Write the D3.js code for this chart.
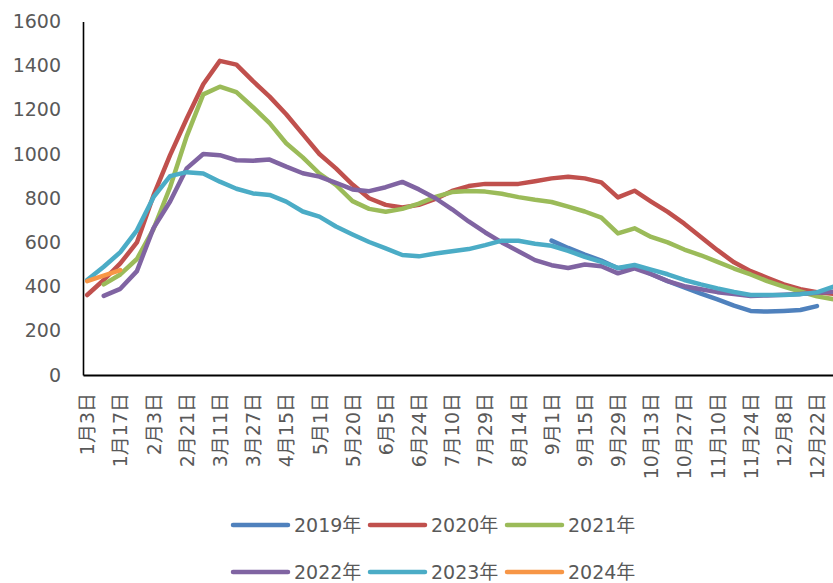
<!DOCTYPE html>
<html lang="zh">
<head>
    <meta charset="UTF-8">
    <title>2019-2024年 走势</title>
    <script src="https://d3js.org/d3.v7.min.js"></script>
    <style>
        body { margin: 0; background: #fff; }
        svg { display: block; font-family: "DejaVu Sans", "Noto Sans CJK SC", sans-serif; }
    </style>
</head>
<body>
    <svg width="833" height="583"></svg>
    <script>
        // x轴标签（每两个数据点一个）
        const tickLabels = ["1月3日", "1月17日", "2月3日", "2月21日", "3月11日", "3月27日", "4月15日",
            "5月1日", "5月20日", "6月5日", "6月24日", "7月10日", "7月29日", "8月14日", "9月1日",
            "9月15日", "9月29日", "10月13日", "10月27日", "11月10日", "11月24日", "12月8日", "12月22日"];

        const yTicks = [0, 200, 400, 600, 800, 1000, 1200, 1400, 1600];

        const seriesNames = ["2019年", "2020年", "2021年", "2022年", "2023年", "2024年"];
        const seriesColors = ["#4F81BD", "#C0504D", "#9BBB59", "#8064A2", "#4BACC6", "#F79646"];
        // 每个系列从第几个点开始
        const seriesStart = [28, 0, 1, 1, 0, 0];

        const values2019 = [608, 575, 545, 518, 483, 493, 457, 425, 396, 368, 342, 314, 290, 287, 290, 294, 312];
        const values2020 = [362, 430, 505, 600, 813, 995, 1160, 1316, 1422, 1405, 1330, 1260, 1180, 1090, 1000, 935,
            862, 800, 770, 758, 770, 797, 833, 855, 865, 865, 865, 877, 890, 897, 890, 872, 804, 834, 785, 738,
            685, 625, 565, 510, 470, 440, 410, 388, 375, 368];
        const values2021 = [410, 455, 525, 660, 850, 1080, 1270, 1305, 1280, 1212, 1140, 1049, 985, 912, 860,
            787, 752, 739, 752, 776, 806, 828, 833, 830, 820, 805, 793, 783, 762, 740, 712, 641, 664, 625, 600,
            568, 542, 512, 482, 455, 425, 400, 378, 356, 343];
        const values2022 = [358, 390, 470, 665, 785, 935, 1000, 995, 972, 970, 975, 943, 913, 898, 870, 840,
            832, 850, 874, 840, 800, 750, 695, 645, 600, 560, 520, 497, 484, 500, 492, 460, 483, 456, 425, 402,
            388, 375, 366, 358, 360, 363, 367, 372, 377];
        const values2023 = [430, 490, 556, 655, 805, 900, 918, 912, 875, 843, 822, 815, 785, 740, 717, 672,
            636, 602, 573, 543, 537, 550, 560, 570, 588, 608, 608, 594, 585, 562, 535, 512, 485, 498, 477, 456,
            430, 410, 392, 376, 362, 362, 362, 366, 374, 400];
        const values2024 = [425, 450, 475];

        const allValues = [values2019, values2020, values2021, values2022, values2023, values2024];

        const svg = d3.select("svg");

        const x = d3.scaleLinear()
            .domain([-0.25, 45.75])
            .range([83, 846]);

        const y = d3.scaleLinear()
            .domain([0, 1600])
            .range([375, 21.5]);

        // y轴
        const yAxis = svg.append("g")
            .attr("transform", "translate(83,0)")
            .call(d3.axisLeft(y).tickValues(yTicks).tickFormat(d3.format("d")).tickSize(0).tickPadding(22));
        yAxis.select(".domain").attr("stroke", "#000").attr("stroke-width", 1.6);
        yAxis.selectAll("text")
            .attr("fill", "#595959")
            .style("font-size", "19px")
            .style("font-family", "DejaVu Sans, Noto Sans CJK SC, sans-serif");

        // x轴
        const xAxis = svg.append("g")
            .attr("transform", "translate(0,375)")
            .call(d3.axisBottom(x)
                .tickValues(tickLabels.map((d, i) => i * 2))
                .tickFormat((d, i) => tickLabels[i])
                .tickSize(0)
                .tickSizeOuter(0));
        xAxis.select(".domain").attr("stroke", "#000").attr("stroke-width", 2);
        xAxis.selectAll("text")
            .attr("transform", "rotate(-90)")
            .attr("text-anchor", "end")
            .attr("x", -18)
            .attr("y", 0)
            .attr("dy", "0.35em")
            .attr("fill", "#595959")
            .style("font-size", "19px")
            .style("font-family", "DejaVu Sans, Noto Sans CJK SC, sans-serif");

        // 折线
        const line = d3.line()
            .x(d => x(d.k))
            .y(d => y(d.v));

        allValues.forEach((vals, s) => {
            const pts = vals.map((v, i) => ({ k: seriesStart[s] + i, v: v }));
            svg.append("path")
                .datum(pts)
                .attr("fill", "none")
                .attr("stroke", seriesColors[s])
                .attr("stroke-width", 4.5)
                .attr("stroke-linecap", "round")
                .attr("stroke-linejoin", "round")
                .attr("d", line);
        });

        // 图例
        const legend = svg.append("g");
        seriesNames.forEach((name, i) => {
            const lx = 233 + (i % 3) * 137;
            const ly = i < 3 ? 525 : 572;
            legend.append("line")
                .attr("x1", lx)
                .attr("x2", lx + 55)
                .attr("y1", ly)
                .attr("y2", ly)
                .attr("stroke", seriesColors[i])
                .attr("stroke-width", 4.5)
                .attr("stroke-linecap", "round");
            legend.append("text")
                .attr("x", lx + 61)
                .attr("y", ly)
                .attr("dy", "0.35em")
                .attr("fill", "#595959")
                .style("font-size", "19px")
                .text(name);
        });
    </script>
</body>
</html>
